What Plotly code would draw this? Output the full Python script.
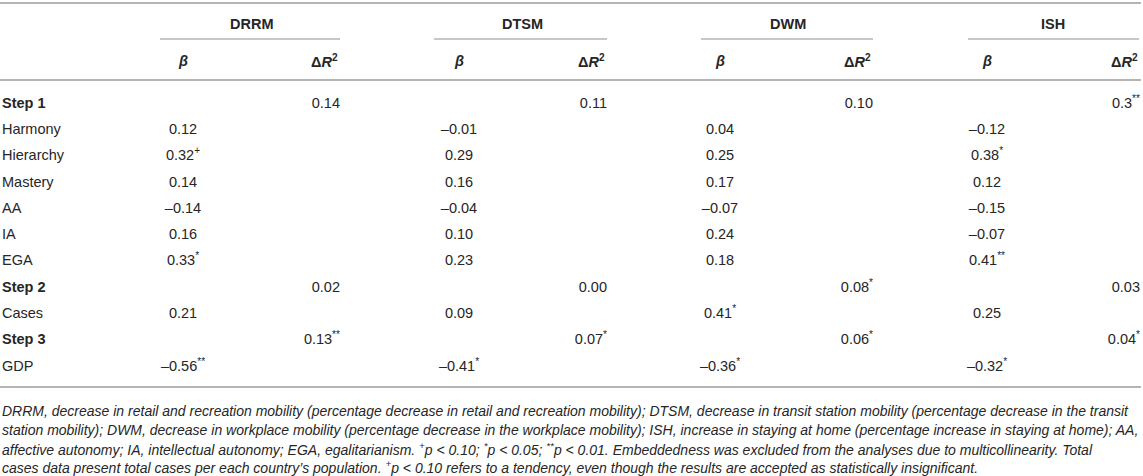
import plotly.graph_objects as go

# ---- table data ----
predictors = ["Step 1", "Harmony", "Hierarchy", "Mastery", "AA", "IA", "EGA",
              "Step 2", "Cases", "Step 3", "GDP"]
step_rows = ["Step 1", "Step 2", "Step 3"]

outcomes = ["DRRM", "DTSM", "DWM", "ISH"]

drrm_beta = ["", "0.12", "0.32<sup>+</sup>", "0.14", "–0.14", "0.16", "0.33<sup>*</sup>",
             "", "0.21", "", "–0.56<sup>**</sup>"]
drrm_dr2 = ["0.14", "", "", "", "", "", "", "0.02", "", "0.13<sup>**</sup>", ""]

dtsm_beta = ["", "–0.01", "0.29", "0.16", "–0.04", "0.10", "0.23",
             "", "0.09", "", "–0.41<sup>*</sup>"]
dtsm_dr2 = ["0.11", "", "", "", "", "", "", "0.00", "", "0.07<sup>*</sup>", ""]

dwm_beta = ["", "0.04", "0.25", "0.17", "–0.07", "0.24", "0.18",
            "", "0.41<sup>*</sup>", "", "–0.36<sup>*</sup>"]
dwm_dr2 = ["0.10", "", "", "", "", "", "", "0.08<sup>*</sup>", "", "0.06<sup>*</sup>", ""]

ish_beta = ["", "–0.12", "0.38<sup>*</sup>", "0.12", "–0.15", "–0.07", "0.41<sup>**</sup>",
            "", "0.25", "", "–0.32<sup>*</sup>"]
ish_dr2 = ["0.3<sup>**</sup>", "", "", "", "", "", "", "0.03", "", "0.04<sup>*</sup>", ""]

betas = [drrm_beta, dtsm_beta, dwm_beta, ish_beta]
dr2s = [drrm_dr2, dtsm_dr2, dwm_dr2, ish_dr2]

footnote_lines = [
    "DRRM, decrease in retail and recreation mobility (percentage decrease in retail and recreation mobility); "
    "DTSM, decrease in transit station mobility (percentage decrease in the transit",
    "station mobility); DWM, decrease in workplace mobility (percentage decrease in the workplace mobility); "
    "ISH, increase in staying at home (percentage increase in staying at home); AA,",
    "affective autonomy; IA, intellectual autonomy; EGA, egalitarianism. <sup>+</sup>p &lt; 0.10; "
    "<sup>*</sup>p &lt; 0.05; <sup>**</sup>p &lt; 0.01. Embeddedness was excluded from the analyses due to "
    "multicollinearity. Total",
    "cases data present total cases per each country’s population. <sup>+</sup>p &lt; 0.10 refers to a "
    "tendency, even though the results are accepted as statistically insignificant.",
]

# ---- layout (pixel units on hidden axes) ----
W, H = 1143, 476
FONT = "Liberation Sans, Arial, Helvetica, sans-serif"
TXT = "#262626"
RULE = "#b4b4b4"

group_center = [252, 522, 788, 1053]
group_span = [(160, 340), (434, 607), (701, 873), (968, 1139)]
beta_x = [183, 459, 720, 987]
dr2_x = [340, 607, 873, 1140]

y_head, y_sub = 24, 61
row0, pitch = 104, 26.3
row_y = [row0 + i * pitch for i in range(len(predictors))]


def text_column(x, texts, pos):
    # only rows that actually hold a value
    keep = [i for i, t in enumerate(texts) if t]
    return go.Scatter(
        x=[x] * len(keep), y=[row_y[i] for i in keep], mode="text",
        text=[texts[i] for i in keep], textposition=pos,
        textfont=dict(family=FONT, size=14.5, color=TXT),
        hoverinfo="skip", cliponaxis=False, showlegend=False,
    )


fig = go.Figure()

# predictor labels
fig.add_trace(text_column(
    2, [f"<b>{p}</b>" if p in step_rows else p for p in predictors], "middle right"))

for k, name in enumerate(outcomes):
    fig.add_trace(text_column(beta_x[k], betas[k], "middle center"))
    fig.add_trace(text_column(dr2_x[k], dr2s[k], "middle left"))
    # group header + sub headers
    fig.add_annotation(x=group_center[k], y=y_head, text=f"<b>{name}</b>",
                       showarrow=False, xanchor="center", yanchor="middle",
                       font=dict(family=FONT, size=14.5, color=TXT))
    fig.add_annotation(x=beta_x[k], y=y_sub, text="<b><i>β</i></b>",
                       showarrow=False, xanchor="center", yanchor="middle",
                       font=dict(family=FONT, size=14.5, color=TXT))
    fig.add_annotation(x=dr2_x[k], y=y_sub, text="<b>Δ<i>R</i><sup>2</sup></b>",
                       showarrow=False, xanchor="right", yanchor="middle",
                       font=dict(family=FONT, size=14.5, color=TXT))
    x0, x1 = group_span[k]
    fig.add_shape(type="line", x0=x0, x1=x1, y0=39, y1=39,
                  line=dict(color=RULE, width=1.3))

# full-width rules
for yy in (3, 80, 387):
    fig.add_shape(type="line", x0=0, x1=1141, y0=yy, y1=yy,
                  line=dict(color=RULE, width=2))

# footnote
for i, line in enumerate(footnote_lines):
    fig.add_annotation(x=0, y=411 + i * 18.8, text=f"<i>{line}</i>",
                       showarrow=False, xanchor="left", yanchor="middle",
                       font=dict(family=FONT, size=14, color=TXT))

fig.update_layout(
    width=W, height=H,
    margin=dict(l=0, r=0, t=0, b=0),
    paper_bgcolor="white", plot_bgcolor="white",
    xaxis=dict(range=[0, W], visible=False, fixedrange=True),
    yaxis=dict(range=[H, 0], visible=False, fixedrange=True),
)

fig.write_html(
    "out.html",
    config={"displayModeBar": False},
    post_script="document.body.style.margin='0';document.body.style.overflow='hidden';",
)
